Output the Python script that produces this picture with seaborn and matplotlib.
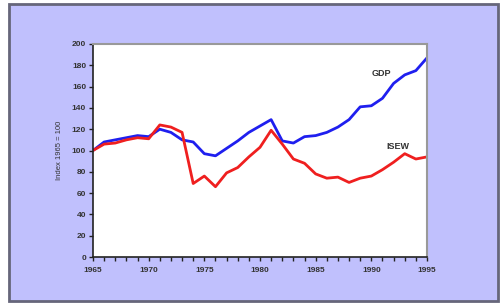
import matplotlib
matplotlib.use("Agg")
import matplotlib.pyplot as plt
import seaborn as sns
import pandas as pd
from matplotlib.patches import Rectangle

years = list(range(1965, 1996))
gdp = [100, 108, 110, 112, 114, 113, 120, 117, 110, 108, 97, 95, 102, 109, 117,
       123, 129, 109, 107, 113, 114, 117, 122, 129, 141, 142, 149, 163, 171, 175, 187]
isew = [100, 106, 107, 110, 112, 111, 124, 122, 117, 69, 76, 66, 79, 84, 94,
        103, 119, 106, 92, 88, 78, 74, 75, 70, 74, 76, 82, 89, 97, 92, 94]
series_names = ["GDP", "ISEW"]
series_colors = ["#1f1fef", "#ef1f1f"]
label_pos = {"GDP": (1990.9, 172), "ISEW": (1992.4, 104)}

sns.set_style("white")
plt.rcParams['font.family'] = ['Liberation Sans', 'DejaVu Sans']

df = pd.DataFrame({"Year": years * 2,
                   "Value": gdp + isew,
                   "Series": ["GDP"] * len(years) + ["ISEW"] * len(years)})

fig = plt.figure(figsize=(5.01, 3.03), dpi=100)
fig.patch.set_facecolor("white")
bg = Rectangle((9 / 501, 1 - 301 / 303), (498 - 9) / 501, (301 - 4) / 303,
               transform=fig.transFigure, facecolor="#c0c0fd", edgecolor="#66667a",
               linewidth=2.0, zorder=-10)
fig.patches.append(bg)

ax = fig.add_axes([93 / 501, 1 - 257 / 303, (427 - 93) / 501, (257 - 44) / 303])
ax.set_zorder(5)
ax.set_facecolor("white")
sns.lineplot(data=df, x="Year", y="Value", hue="Series", palette=series_colors,
             hue_order=series_names, linewidth=2.0, legend=False, ax=ax)

for name in series_names:
    x, y = label_pos[name]
    ax.text(x, y, name, fontsize=6.5, fontweight="bold", color="#333333",
            ha="center", va="center")

ax.set_xlim(1965, 1995)
ax.set_ylim(0, 200)
ax.set_xticks([1965, 1970, 1975, 1980, 1985, 1990, 1995])
ax.set_xticks(years, minor=True)
ax.set_yticks(range(0, 201, 20))
ax.tick_params(axis="both", which="both", direction="out", length=3, width=1,
               color="#222222", labelsize=6, labelcolor="#333333")
ax.tick_params(axis="x", which="both", bottom=True, pad=4)
ax.tick_params(axis="y", left=True, pad=2)
for lab in ax.get_xticklabels() + ax.get_yticklabels():
    lab.set_fontweight("bold")
ax.set_xlabel("")
ax.set_ylabel("Index 1965 = 100", fontsize=5.5, color="#333333", labelpad=6)

for side in ["left", "bottom"]:
    ax.spines[side].set_color("#222222")
    ax.spines[side].set_linewidth(1.2)
for side in ["top", "right"]:
    ax.spines[side].set_color("#999999")
    ax.spines[side].set_linewidth(1.5)

fig.savefig("out.png", dpi=100)
